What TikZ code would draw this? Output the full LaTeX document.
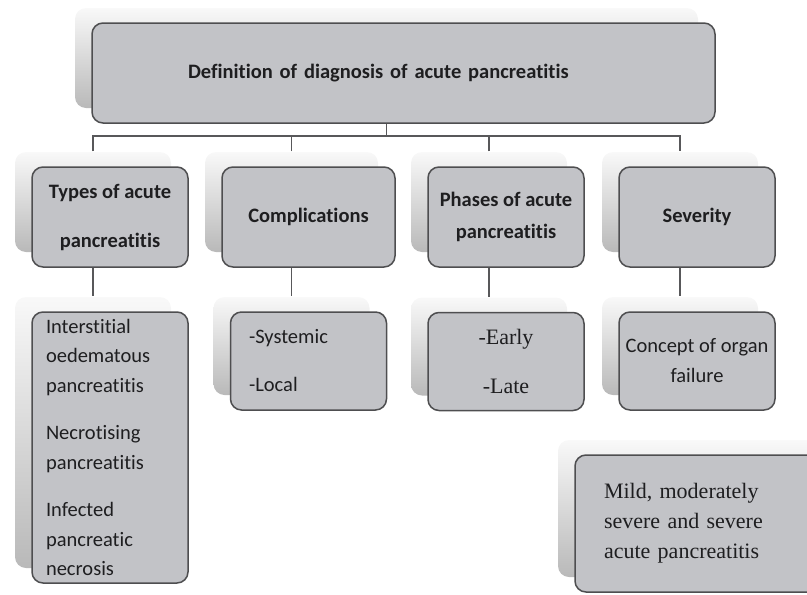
\documentclass[tikz,border=0pt]{standalone}
\usepackage{fontspec}
\setmainfont[Ligatures=NoCommon]{Carlito}
\newfontfamily\serifish{Liberation Serif}
\usetikzlibrary{shadows}

\definecolor{boxfill}{RGB}{194,195,199}
\definecolor{boxline}{RGB}{78,78,80}
\definecolor{wire}{RGB}{88,88,90}
\definecolor{ink}{RGB}{30,30,32}

\tikzset{
    back/.style={general shadow={shadow xshift=-17pt, shadow yshift=15pt,
        top color=gray!5, bottom color=gray!55}},
    box/.style={back, draw=boxline, fill=boxfill, line width=1.5pt,
        rounded corners=11pt, text=ink, inner sep=3pt},
    head/.style={box, minimum width=156pt, minimum height=100pt, align=center,
        font=\fontsize{20.5}{24}\bfseries\selectfont},
    item/.style={box, minimum width=156pt, minimum height=98pt,
        font=\fontsize{20.5}{30}\selectfont},
    link/.style={draw=wire, line width=1.6pt}
}

\begin{document}
\begin{tikzpicture}[x=1pt,y=-1pt]

        \useasboundingbox (0,0) rectangle (807,595);
        \clip (0,0) rectangle (807,595);

        % top box
        \node[box, minimum width=623pt, minimum height=100pt, text width=431pt, align=left,
            font=\fontsize{20.5}{24}\bfseries\selectfont] (defn) at (403.5,73)
            {Definition of diagnosis of acute pancreatitis};

        % second row
        \node[head] (types) at (110,217) {Types of acute\\[25pt]pancreatitis};
        \node[head, minimum width=173pt] (compl) at (308.5,217) {Complications};
        \node[head] (phases) at (506,217) {Phases of acute\\[8pt]pancreatitis};
        \node[head] (sev) at (697,217) {Severity};

        % third row
        \node[item, minimum height=271pt, text width=128pt, align=left,
            font=\fontsize{20.5}{29.5}\selectfont] (typesL) at (110,447.5)
            {Interstitial\\oedematous\\pancreatitis\\[18pt]Necrotising\\pancreatitis\\[18pt]Infected\\pancreatic\\necrosis};
        \node[item, text width=119pt, align=left] (complL) at (308.5,361)
            {-Systemic\\[18pt]-Local};
        \node[item, align=center, font=\fontsize{22}{30}\serifish\selectfont] (phasesL) at (506,361.5)
            {-Early\\[19pt]-Late};
        \node[item, align=center] (sevL) at (697,361) {Concept of organ\\failure};

        % grades of severity
        \node[item, minimum width=270pt, minimum height=137pt, text width=212pt, align=left,
            font=\fontsize{22}{30}\serifish\selectfont] (mild) at (710,523.5)
            {Mild, moderately\\severe and severe\\acute pancreatitis};

        % tops of the shadow boxes
        \coordinate (types top) at ([xshift=-17pt,yshift=15pt]types.north);
        \coordinate (compl top) at ([xshift=-17pt,yshift=15pt]compl.north);
        \coordinate (phases top) at ([xshift=-17pt,yshift=15pt]phases.north);
        \coordinate (sev top) at ([xshift=-17pt,yshift=15pt]sev.north);
        \coordinate (hub) at (386.5,136);

        % bus
        \draw[link] ([xshift=-17pt]defn.south) -- (hub);
        \draw[link] (types top) |- (hub) -| (sev top);
        \draw[link] (compl top) -- (compl top |- hub);
        \draw[link] (phases top) -- (phases top |- hub);

        % down to the lists
        \draw[link] ([xshift=-17pt]types.south) -- ([xshift=-17pt,yshift=15pt]typesL.north);
        \draw[link] ([xshift=-17pt]compl.south) -- ([xshift=-17pt,yshift=15pt]complL.north);
        \draw[link] ([xshift=-17pt]phases.south) -- ([xshift=-17pt,yshift=15pt]phasesL.north);
        \draw[link] ([xshift=-17pt]sev.south) -- ([xshift=-17pt,yshift=15pt]sevL.north);

\end{tikzpicture}
\end{document}
